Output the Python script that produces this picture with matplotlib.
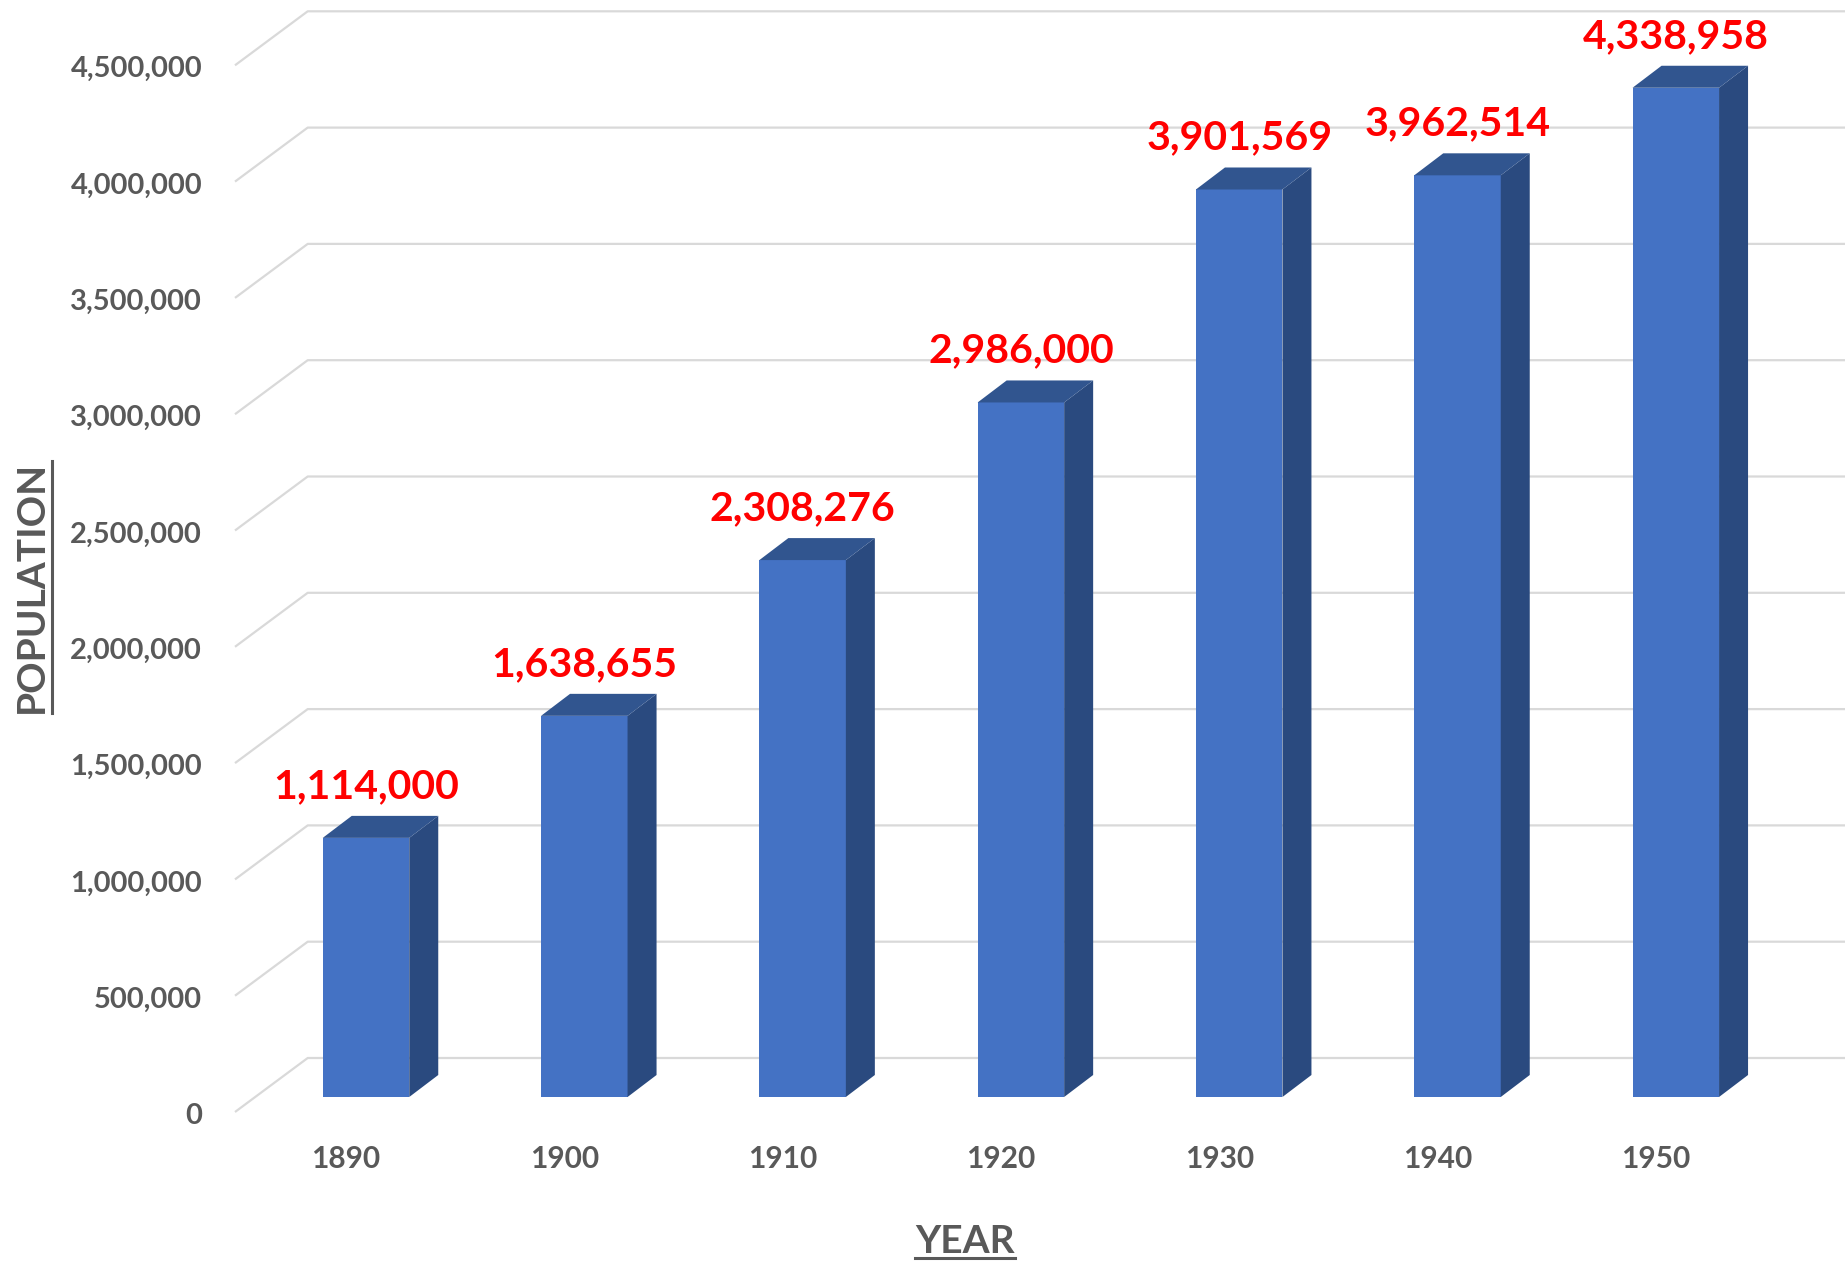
import matplotlib.pyplot as plt
from matplotlib.patches import Polygon
from matplotlib.lines import Line2D
from matplotlib.transforms import IdentityTransform

years = ['1890', '1900', '1910', '1920', '1930', '1940', '1950']
population = [1114000, 1638655, 2308276, 2986000, 3901569, 3962514, 4338958]
y_ticks = [0, 500000, 1000000, 1500000, 2000000, 2500000,
           3000000, 3500000, 4000000, 4500000]
y_ticklabels = [f'{v:,}' for v in y_ticks]

W, H, DPI = 1845, 1262, 100
PX_X = 218.3          # pixels per category
PX_Y = 232.6e-6       # pixels per person
X0_PX = 366           # first bar centre (pixels from left)
Y0_PX = 165           # bar front baseline (pixels from bottom)

GRAY = '#595959'
FRONT = '#4472C4'
SIDE = '#2A4A7F'
TOP = '#31558F'
FONT = 'Lato'

fig = plt.figure(figsize=(W / DPI, H / DPI), dpi=DPI)
ax = fig.add_axes([0, 0, 1, 1])
ax.set_xlim(-X0_PX / PX_X, (W - X0_PX) / PX_X)
ax.set_ylim(-Y0_PX / PX_Y, (H - Y0_PX) / PX_Y)
ax.axis('off')

def off(dx_px, dy_px):
    return dx_px / PX_X, dy_px / PX_Y

# depth offsets relative to the bar front plane
back_dx, back_dy = off(52.7, 39)
floor_dx, floor_dy = off(-20, -15)
bar_dx, bar_dy = off(29, 22)
wall_left, wall_right = off(255 - X0_PX, 0)[0], (W - 52.7 - X0_PX) / PX_X

# back wall gridlines with the slanted side wall
for v in y_ticks:
    ax.plot([wall_left + floor_dx, wall_left + back_dx, wall_right + back_dx],
            [v + floor_dy, v + back_dy, v + back_dy],
            color='#d9d9d9', lw=1.6, zorder=1, solid_capstyle='butt')

# y tick labels
lab_dx, lab_dy = off(-33, -12)
for v, lab in zip(y_ticks, y_ticklabels):
    ax.text(wall_left + floor_dx + lab_dx, v + floor_dy + lab_dy, lab,
            ha='right', va='baseline', fontsize=21, fontweight='bold',
            color=GRAY, family=FONT)

# bars
bw = 86.5 / PX_X
xs = list(range(len(years)))
ax.bar(xs, population, width=bw, color=FRONT, zorder=3)
for x, v in zip(xs, population):
    r = x + bw / 2
    l = x - bw / 2
    ax.add_patch(Polygon([(r, 0), (r + bar_dx, bar_dy), (r + bar_dx, v + bar_dy), (r, v)],
                         closed=True, facecolor=SIDE, edgecolor='none', zorder=3))
    ax.add_patch(Polygon([(l, v), (l + bar_dx, v + bar_dy), (r + bar_dx, v + bar_dy), (r, v)],
                         closed=True, facecolor=TOP, edgecolor='none', zorder=3))
    ax.annotate(f'{v:,}', xy=(x, v), xytext=(0, 40 * 72 / DPI), textcoords='offset points',
                ha='center', va='baseline', color='#FF0000', fontsize=29.5,
                fontweight='bold', family=FONT, zorder=4)

# x tick labels
xl_dy = off(0, -71)[1]
for x, yr in zip(xs, years):
    ax.text(x + floor_dx, xl_dy, yr, ha='center', va='baseline', fontsize=21.5,
            fontweight='bold', color=GRAY, family=FONT)

# axis titles (underlined)
t_year = fig.text(965 / W, 9 / H, 'YEAR', ha='center', va='baseline',
                  fontsize=28, fontweight='bold', color=GRAY, family=FONT)
t_pop = fig.text(43 / W, (H - 587) / H, 'POPULATION', ha='center',
                 va='baseline', rotation=90, rotation_mode='anchor',
                 fontsize=28, fontweight='bold', color=GRAY, family=FONT)

fig.canvas.draw()
bb = t_year.get_window_extent()
fig.add_artist(Line2D([bb.x0, bb.x1], [4, 4], transform=IdentityTransform(),
                      color=GRAY, lw=2.2))
bb = t_pop.get_window_extent()
fig.add_artist(Line2D([52, 52], [bb.y0, bb.y1], transform=IdentityTransform(),
                      color=GRAY, lw=2.2))

fig.savefig('out.png', dpi=DPI)
